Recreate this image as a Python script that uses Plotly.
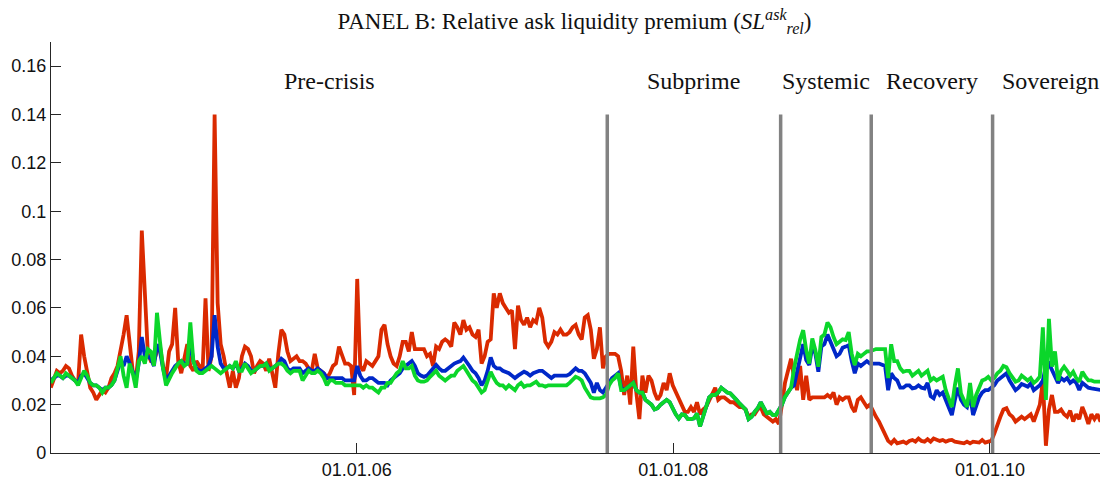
import pandas as pd
import plotly.graph_objects as go

# weekly observations starting 2004-01-26
start_date = "2004-01-26"

red = [
    0.027, 0.031, 0.034, 0.033, 0.034, 0.036, 0.035, 0.032, 0.030, 0.029,
    0.049, 0.040, 0.033, 0.027, 0.025, 0.022, 0.024, 0.026, 0.025, 0.027,
    0.031, 0.033, 0.036, 0.042, 0.049, 0.057, 0.045, 0.034, 0.030, 0.042,
    0.092, 0.062, 0.041, 0.038, 0.038, 0.042, 0.044, 0.036, 0.031, 0.042,
    0.045, 0.060, 0.038, 0.033, 0.040, 0.045, 0.036, 0.034, 0.038, 0.036,
    0.033, 0.064, 0.034, 0.040, 0.140, 0.062, 0.045, 0.040, 0.033, 0.027,
    0.034, 0.027, 0.031, 0.040, 0.044, 0.043, 0.040, 0.033, 0.036, 0.038,
    0.037, 0.034, 0.039, 0.033, 0.027, 0.041, 0.051, 0.049, 0.042, 0.038,
    0.039, 0.040, 0.038, 0.038, 0.037, 0.035, 0.034, 0.041, 0.035, 0.034,
    0.033, 0.031, 0.033, 0.036, 0.037, 0.044, 0.040, 0.037, 0.037, 0.036,
    0.024, 0.072, 0.036, 0.034, 0.038, 0.037, 0.036, 0.038, 0.040, 0.051,
    0.053, 0.045, 0.040, 0.037, 0.036, 0.040, 0.046, 0.046, 0.042, 0.050,
    0.043, 0.043, 0.043, 0.043, 0.040, 0.041, 0.036, 0.044, 0.043, 0.046,
    0.047, 0.046, 0.044, 0.054, 0.052, 0.049, 0.055, 0.051, 0.052, 0.049,
    0.048, 0.051, 0.037, 0.040, 0.046, 0.047, 0.066, 0.060, 0.066, 0.062,
    0.060, 0.058, 0.059, 0.043, 0.061, 0.055, 0.053, 0.056, 0.052, 0.055,
    0.054, 0.060, 0.056, 0.046, 0.044, 0.046, 0.050, 0.049, 0.051, 0.049,
    0.049, 0.050, 0.052, 0.053, 0.049, 0.047, 0.056, 0.057, 0.051, 0.039,
    0.043, 0.052, 0.035, 0.040, 0.041, 0.041, 0.041, 0.040, 0.034, 0.024,
    0.032, 0.020, 0.044, 0.025, 0.014, 0.032, 0.025, 0.032, 0.030, 0.025,
    0.022, 0.024, 0.029, 0.026, 0.033, 0.028, 0.025, 0.022, 0.019, 0.017,
    0.017, 0.019, 0.017, 0.021, 0.016, 0.018, 0.019, 0.022, 0.024, 0.027,
    0.022, 0.023, 0.023, 0.022, 0.021, 0.021, 0.020, 0.019, 0.019, 0.018,
    0.015, 0.016, 0.016, 0.018, 0.019, 0.016, 0.015, 0.014, 0.013, 0.014,
    0.012, 0.020, 0.029, 0.034, 0.039, 0.031, 0.026, 0.036, 0.022, 0.032,
    0.022, 0.023, 0.023, 0.023, 0.023, 0.023, 0.024, 0.023, 0.025, 0.020,
    0.023, 0.022, 0.023, 0.023, 0.019, 0.017, 0.022, 0.023, 0.021, 0.019,
    0.020, 0.017, 0.015, 0.013, 0.010, 0.0075, 0.005, 0.004, 0.0054, 0.004,
    0.0045, 0.0047, 0.004, 0.005, 0.0054, 0.0047, 0.006, 0.005, 0.0047, 0.0057,
    0.0047, 0.006, 0.0055, 0.005, 0.0054, 0.0047, 0.0052, 0.0054, 0.0047, 0.0045,
    0.0045, 0.004, 0.0047, 0.004, 0.0047, 0.0045, 0.0043, 0.0054, 0.0043, 0.0047,
    0.005, 0.008, 0.012, 0.015, 0.018, 0.0185, 0.016, 0.015, 0.013, 0.014,
    0.015, 0.014, 0.015, 0.016, 0.013, 0.016, 0.020, 0.030, 0.003, 0.018,
    0.024, 0.017, 0.017, 0.018, 0.016, 0.015, 0.0175, 0.013, 0.016, 0.014,
    0.019, 0.016, 0.012, 0.016, 0.014, 0.016, 0.013, 0.016, 0.014,
]

blue = [
    0.030, 0.031, 0.032, 0.032, 0.031, 0.032, 0.032, 0.031, 0.030, 0.029,
    0.032, 0.033, 0.031, 0.029, 0.028, 0.028, 0.027, 0.026, 0.027, 0.027,
    0.028, 0.030, 0.034, 0.038, 0.036, 0.040, 0.037, 0.034, 0.030, 0.037,
    0.048, 0.040, 0.040, 0.039, 0.036, 0.045, 0.042, 0.035, 0.030, 0.032,
    0.034, 0.036, 0.037, 0.038, 0.037, 0.037, 0.046, 0.038, 0.035, 0.034,
    0.034, 0.035, 0.036, 0.040, 0.057, 0.044, 0.037, 0.035, 0.035, 0.036,
    0.035, 0.037, 0.034, 0.035, 0.037, 0.036, 0.034, 0.034, 0.035, 0.036,
    0.036, 0.037, 0.035, 0.035, 0.036, 0.037, 0.039, 0.038, 0.035, 0.034,
    0.035, 0.035, 0.035, 0.033, 0.034, 0.035, 0.034, 0.034, 0.035, 0.034,
    0.033, 0.031, 0.031, 0.031, 0.031, 0.031, 0.031, 0.030, 0.030, 0.030,
    0.030, 0.036, 0.032, 0.030, 0.030, 0.031, 0.031, 0.030, 0.029, 0.029,
    0.029, 0.028, 0.030, 0.031, 0.032, 0.033, 0.035, 0.036, 0.037, 0.038,
    0.036, 0.033, 0.032, 0.0315, 0.032, 0.0336, 0.035, 0.0364, 0.035, 0.034,
    0.034, 0.035, 0.036, 0.037, 0.0375, 0.038, 0.0395, 0.038, 0.036, 0.034,
    0.033, 0.031, 0.028, 0.030, 0.034, 0.0395, 0.036, 0.035, 0.035, 0.034,
    0.0336, 0.033, 0.032, 0.031, 0.032, 0.033, 0.0336, 0.033, 0.032, 0.033,
    0.0336, 0.034, 0.034, 0.033, 0.032, 0.031, 0.032, 0.032, 0.032, 0.032,
    0.032, 0.0326, 0.034, 0.035, 0.034, 0.034, 0.033, 0.031, 0.029, 0.025,
    0.029, 0.026, 0.025, 0.027, 0.029, 0.031, 0.032, 0.033, 0.027, 0.026,
    0.027, 0.028, 0.029, 0.026, 0.025, 0.025, 0.022, 0.021, 0.020, 0.018,
    0.0185, 0.020, 0.021, 0.022, 0.021, 0.018, 0.016, 0.0143, 0.016, 0.0157,
    0.014, 0.014, 0.0143, 0.0164, 0.011, 0.015, 0.019, 0.023, 0.024, 0.024,
    0.025, 0.027, 0.026, 0.025, 0.0246, 0.023, 0.022, 0.0205, 0.019, 0.018,
    0.014, 0.015, 0.017, 0.0185, 0.021, 0.0185, 0.0164, 0.017, 0.0157, 0.0157,
    0.0178, 0.020, 0.0232, 0.025, 0.027, 0.028, 0.034, 0.040, 0.045, 0.0384,
    0.0364, 0.044, 0.0412, 0.0336, 0.044, 0.045, 0.049, 0.046, 0.043, 0.040,
    0.041, 0.0435, 0.044, 0.0446, 0.038, 0.033, 0.037, 0.036, 0.037, 0.038,
    0.037, 0.037, 0.037, 0.037, 0.0365, 0.036, 0.026, 0.033, 0.031, 0.030,
    0.027, 0.027, 0.028, 0.028, 0.0267, 0.027, 0.028, 0.027, 0.0267, 0.029,
    0.0235, 0.0226, 0.026, 0.024, 0.025, 0.022, 0.019, 0.0157, 0.022, 0.027,
    0.022, 0.020, 0.019, 0.024, 0.0157, 0.019, 0.023, 0.025, 0.026, 0.026,
    0.027, 0.028, 0.030, 0.031, 0.032, 0.033, 0.030, 0.028, 0.026, 0.027,
    0.0285, 0.028, 0.0274, 0.0288, 0.026, 0.027, 0.028, 0.030, 0.036, 0.037,
    0.034, 0.032, 0.029, 0.031, 0.030, 0.031, 0.029, 0.030, 0.029, 0.026,
    0.029, 0.028, 0.027, 0.0267, 0.0265, 0.026, 0.026, 0.0258, 0.0257,
]

green = [
    0.029, 0.031, 0.033, 0.032, 0.031, 0.033, 0.032, 0.031, 0.030, 0.028,
    0.031, 0.034, 0.032, 0.029, 0.028, 0.028, 0.027, 0.025, 0.027, 0.027,
    0.028, 0.030, 0.035, 0.040, 0.032, 0.027, 0.037, 0.033, 0.027, 0.038,
    0.040, 0.037, 0.043, 0.042, 0.036, 0.058, 0.046, 0.035, 0.028, 0.031,
    0.033, 0.035, 0.037, 0.038, 0.036, 0.037, 0.054, 0.038, 0.034, 0.033,
    0.033, 0.034, 0.035, 0.036, 0.035, 0.034, 0.033, 0.034, 0.035, 0.036,
    0.035, 0.038, 0.034, 0.034, 0.037, 0.035, 0.033, 0.034, 0.035, 0.036,
    0.036, 0.037, 0.034, 0.035, 0.036, 0.037, 0.037, 0.036, 0.034, 0.033,
    0.034, 0.034, 0.034, 0.030, 0.032, 0.034, 0.033, 0.033, 0.034, 0.033,
    0.031, 0.028, 0.030, 0.030, 0.029, 0.029, 0.029, 0.028, 0.028, 0.028,
    0.028, 0.028, 0.028, 0.027, 0.028, 0.027, 0.027, 0.026, 0.025, 0.027,
    0.027, 0.029, 0.029, 0.031, 0.033, 0.034, 0.038, 0.035, 0.035, 0.036,
    0.032, 0.030, 0.0295, 0.0295, 0.030, 0.0315, 0.033, 0.034, 0.032, 0.031,
    0.030, 0.031, 0.032, 0.032, 0.034, 0.035, 0.036, 0.034, 0.032, 0.030,
    0.029, 0.027, 0.025, 0.026, 0.030, 0.0336, 0.031, 0.029, 0.028, 0.028,
    0.0267, 0.028, 0.027, 0.026, 0.028, 0.029, 0.0274, 0.028, 0.028, 0.029,
    0.0295, 0.028, 0.028, 0.0274, 0.028, 0.028, 0.028, 0.028, 0.028, 0.028,
    0.028, 0.029, 0.030, 0.0315, 0.031, 0.030, 0.027, 0.025, 0.023, 0.0226,
    0.0226, 0.0226, 0.023, 0.024, 0.028, 0.030, 0.031, 0.033, 0.026, 0.026,
    0.027, 0.028, 0.029, 0.026, 0.025, 0.025, 0.022, 0.021, 0.020, 0.018,
    0.0185, 0.020, 0.021, 0.022, 0.021, 0.018, 0.016, 0.0143, 0.016, 0.0157,
    0.014, 0.014, 0.0143, 0.0164, 0.011, 0.015, 0.019, 0.023, 0.024, 0.024,
    0.025, 0.027, 0.026, 0.025, 0.0246, 0.023, 0.022, 0.0205, 0.019, 0.018,
    0.014, 0.015, 0.017, 0.0185, 0.021, 0.0185, 0.0164, 0.017, 0.0157, 0.0157,
    0.0178, 0.020, 0.0232, 0.025, 0.027, 0.035, 0.042, 0.047, 0.0508, 0.0426,
    0.037, 0.0474, 0.0426, 0.0357, 0.048, 0.049, 0.054, 0.052, 0.048, 0.045,
    0.046, 0.047, 0.0467, 0.050, 0.041, 0.0364, 0.041, 0.040, 0.041, 0.042,
    0.042, 0.0425, 0.043, 0.043, 0.043, 0.043, 0.031, 0.045, 0.038, 0.038,
    0.035, 0.0336, 0.034, 0.034, 0.032, 0.033, 0.034, 0.032, 0.033, 0.034,
    0.030, 0.031, 0.030, 0.031, 0.0315, 0.026, 0.022, 0.019, 0.028, 0.035,
    0.0246, 0.022, 0.019, 0.029, 0.019, 0.024, 0.027, 0.030, 0.0305, 0.0315,
    0.030, 0.031, 0.033, 0.034, 0.036, 0.0355, 0.033, 0.031, 0.0295, 0.030,
    0.032, 0.031, 0.030, 0.031, 0.029, 0.030, 0.0316, 0.052, 0.022, 0.0555,
    0.0357, 0.042, 0.030, 0.034, 0.0357, 0.034, 0.032, 0.0336, 0.031, 0.0295,
    0.0336, 0.0316, 0.030, 0.030, 0.0295, 0.0295, 0.0295, 0.029, 0.0288,
]

period_breaks = ["2007-08-02", "2008-09-05", "2009-04-02", "2010-01-07"]
period_names = ["Pre-crisis", "Subprime", "Systemic", "Recovery", "Sovereign"]

x_tick_dates = ["2006-01-01", "2008-01-01", "2010-01-01"]
x_tick_text = ["01.01.06", "01.01.08", "01.01.10"]
y_tick_vals = [0, 0.02, 0.04, 0.06, 0.08, 0.10, 0.12, 0.14, 0.16]
y_tick_text = ["0", "0.02", "0.04", "0.06", "0.08", "0.1", "0.12", "0.14", "0.16"]

x_start = "2004-01-26 12:00"
x_end = "2010-09-30 07:00"

dates = pd.date_range(start_date, periods=len(red), freq="7D")

fig = go.Figure()
for vals, col in [(red, "#DA2A00"), (blue, "#0028C8"), (green, "#0BD62A")]:
    fig.add_trace(go.Scatter(x=dates[:len(vals)], y=vals, mode="lines",
                             line=dict(color=col, width=3.8), hoverinfo="skip"))

for b in period_breaks:
    fig.add_shape(type="line", xref="x", yref="y", x0=b, x1=b, y0=0, y1=0.14,
                  line=dict(color="#828282", width=3.5), layer="above")

edges = [pd.Timestamp(x_start)] + [pd.Timestamp(b) for b in period_breaks] + [pd.Timestamp(x_end)]
for i, name in enumerate(period_names):
    mid = edges[i] + (edges[i + 1] - edges[i]) / 2
    fig.add_annotation(x=mid, y=0.154, xref="x", yref="y", text=name, showarrow=False,
                       font=dict(family="Liberation Serif", size=24, color="#111111"))

# the page body adds an 8px offset; figure is sized so the plot lands where the reference has it
fig.update_layout(
    width=1100, height=476,
    margin=dict(l=43, r=0, t=34, b=31),
    plot_bgcolor="white", paper_bgcolor="white",
    showlegend=False,
    title=dict(text="PANEL B: Relative ask liquidity premium (<i>SL</i><sup><i>ask</i></sup><sub><i>rel</i></sub>)",
               x=0.515, xanchor="center", y=0.972, yanchor="middle",
               font=dict(family="Liberation Serif", size=23, color="#111111")),
    xaxis=dict(range=[x_start, x_end], tickvals=x_tick_dates, ticktext=x_tick_text,
               ticks="inside", ticklen=10, tickcolor="#262626", showline=True,
               linecolor="#262626", linewidth=1.2, showgrid=False, zeroline=False,
               tickfont=dict(family="Liberation Sans", size=18, color="#111111")),
    yaxis=dict(range=[0, 0.17], tickvals=y_tick_vals, ticktext=y_tick_text,
               ticks="inside", ticklen=10, tickcolor="#262626", showline=True,
               linecolor="#262626", linewidth=1.2, showgrid=False, zeroline=False,
               tickfont=dict(family="Liberation Sans", size=18, color="#111111")),
)

fig.write_html("out.html")
